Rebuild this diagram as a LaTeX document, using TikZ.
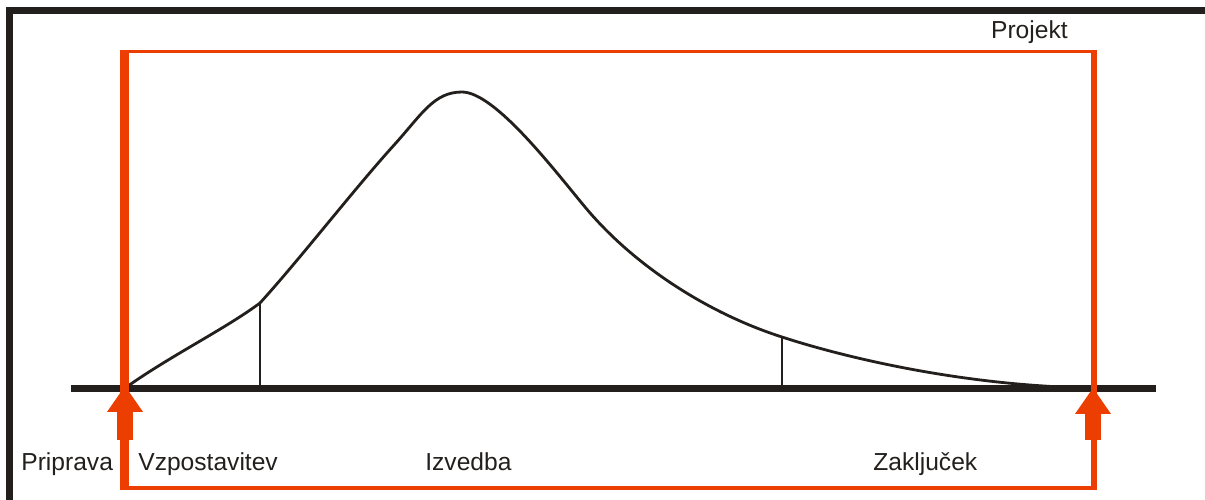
\documentclass[tikz,border=0pt]{standalone}
\usepackage{fontspec}
\setmainfont{Liberation Sans}
\usepackage{tikz}
\usetikzlibrary{arrows.meta, positioning, calc}
\definecolor{mydark}{RGB}{35,31,28}
\definecolor{myorange}{RGB}{236,62,0}
\tikzset{
  frameline/.style={draw=mydark, line width=4pt},
  axisline/.style={draw=mydark, line width=4pt},
  curveline/.style={draw=mydark, line width=1.6pt, line join=round},
  tickline/.style={draw=mydark, line width=1.5pt},
  boxline/.style={draw=myorange, line width=2pt},
  phasearrow/.style={draw=myorange, line width=9pt,
    -{Triangle[width=20.4pt, length=14.7pt, line width=0pt]}},
  phaselabel/.style={font=\fontsize{14}{16}\selectfont, text=mydark,
    inner sep=0pt, anchor=base west}
}

\begin{document}
\begin{tikzpicture}[x=0.02cm, y=-0.02cm]
  \useasboundingbox (0,0) rectangle (1205,500);

  % outer frame (cut off on the right and bottom)
  \draw[frameline] (9.5,500) -- (9.5,10.5) -- (1205,10.5);

  % time axis
  \coordinate (axl) at (71,388.5);
  \coordinate (axr) at (1156,388.5);
  \draw[axisline] (axl) -- (axr);

  % points on the curve
  \coordinate (start) at (128,386);
  \coordinate (t1) at (260,303);
  \coordinate (rise) at (395,144);
  \coordinate (peak) at (462,92);
  \coordinate (fall) at (585,207);
  \coordinate (t2) at (782,337);
  \coordinate (end) at (1093,388);

  \draw[curveline] (start) .. controls (172,355) and (225,329) .. (t1)
    .. controls (300,259) and (355,188) .. (rise)
    .. controls (422,114) and (434,92) .. (peak)
    .. controls (495,92) and (555,171) .. (fall)
    .. controls (635,267) and (710,314) .. (t2)
    .. controls (840,356) and (960,386) .. (end);

  % phase borders
  \draw[tickline] (t1) -- (t1 |- axl);
  \draw[tickline] (t2) -- (t2 |- axl);

  % project box
  \coordinate (boxtl) at (120,51.5);
  \coordinate (boxtr) at (1097,51.5);
  \draw[boxline, line width=1.7pt] (boxtl) -- (boxtr);
  \draw[boxline, line width=5.1pt] (124.5,50) -- (124.5,490);
  \draw[boxline, line width=3.4pt] (1094,50) -- (1094,490);
  \draw[boxline, line width=2.3pt] (120,488) -- (1097,488);

  % start and end arrows
  \coordinate (a1) at (125,440);
  \coordinate (a2) at (1093,440);
  \draw[phasearrow] (a1) -- (a1 |- start);
  \draw[phasearrow] (a2) -- (a2 |- end);

  % labels
  \node[phaselabel] (priprava) at (21,470) {Priprava};
  \node[phaselabel] (vzpostavitev) at (138,470) {Vzpostavitev};
  \node[phaselabel] (izvedba) at (425,470) {Izvedba};
  \node[phaselabel] (zakljucek) at (873,470) {Zaključek};
  \node[phaselabel, anchor=base east] (projekt) at (1068,39) {Projekt};
\end{tikzpicture}
\end{document}
